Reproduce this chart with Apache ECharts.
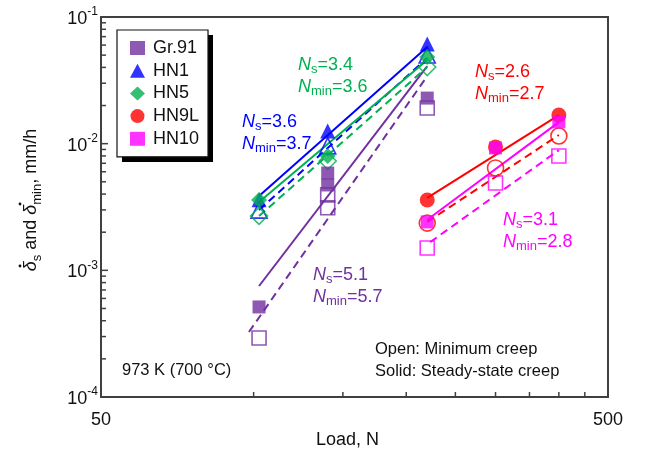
<!DOCTYPE html>
<html>
<head>
<meta charset="utf-8">
<script src="https://cdn.jsdelivr.net/npm/echarts@6/dist/echarts.min.js"></script>
<style>html,body{margin:0;padding:0;background:#fff;}#c{width:647px;height:458px;}</style>
</head>
<body>
<div id="c"></div>
<script>
// ---- data (load in N, creep rate in mm/h) ----
const gr91Load = [102.5, 140, 140, 220];
const gr91Steady = [0.000514, 0.00586, 0.00472, 0.0229];
const gr91Min = [0.000292, 0.00394, 0.00312, 0.0191];
const hn1Load = [102.5, 140, 220];
const hn1Steady = [0.0036, 0.0126, 0.0612];
const hn1Min = [0.00299, 0.0096, 0.0501];
const hn5Load = [102.5, 140, 220];
const hn5Steady = [0.00359, 0.0080, 0.0483];
const hn5Min = [0.00269, 0.0073, 0.0403];
const hn9lLoad = [220, 300, 400];
const hn9lSteady = [0.00359, 0.00942, 0.01683];
const hn9lMin = [0.00236, 0.00643, 0.0115];
const hn10Load = [220, 300, 400];
const hn10Steady = [0.00241, 0.00925, 0.01483];
const hn10Min = [0.0015, 0.00489, 0.0080];

// fitted lines: [load, rate] end points
const gr91FitS = [[102.5, 0.000752], [220, 0.0410]];
const gr91FitM = [[97.9, 0.000326], [220, 0.0342]];
const hn1FitS = [[102.5, 0.00386], [220, 0.0580]];
const hn1FitM = [[102.5, 0.00299], [220, 0.0475]];
const hn5FitS = [[102.5, 0.00346], [220, 0.0458]];
const hn5FitM = [[102.5, 0.00268], [220, 0.0403]];
const hn9lFitS = [[220, 0.00373], [400, 0.0168]];
const hn9lFitM = [[220, 0.00241], [400, 0.0117]];
const hn10FitS = [[220, 0.00251], [400, 0.0148]];
const hn10FitM = [[223, 0.00167], [400, 0.0089]];

const xTickValues = [100, 150, 200, 250, 300, 350, 400, 450];
const yDecades = [1e-4, 1e-3, 1e-2, 1e-1];
const yMantissas = [2, 3, 4, 5, 6, 7, 8, 9];
const xLabels = [50, 500];

const names = ['Gr.91', 'HN1', 'HN5', 'HN9L', 'HN10'];
const colors = ['#7030A0', '#0000FF', '#00B050', '#FF0000', '#FF00FF'];
const symbols = ['rect', 'triangle', 'diamond', 'circle', 'rect'];
const sizes = [13, 15, 16, 15, 13];

const FONT = 'Liberation Sans, Arial, sans-serif';

function zip(a, b) { return a.map((v, i) => [v, b[i]]); }

const chart = echarts.init(document.getElementById('c'));

const series = [];
function fitLine(data, color, dashed) {
  series.push({
    type: 'line', data: data, symbol: 'none', silent: true, z: 2,
    lineStyle: { color: color, width: 2, type: dashed ? [8, 5] : 'solid' }
  });
}
const fits = [[gr91FitS, gr91FitM], [hn1FitS, hn1FitM], [hn5FitS, hn5FitM], [hn9lFitS, hn9lFitM], [hn10FitS, hn10FitM]];
fits.forEach((f, i) => { fitLine(f[0], colors[i], false); fitLine(f[1], colors[i], true); });

const pts = [
  [gr91Load, gr91Steady, gr91Min],
  [hn1Load, hn1Steady, hn1Min],
  [hn5Load, hn5Steady, hn5Min],
  [hn9lLoad, hn9lSteady, hn9lMin],
  [hn10Load, hn10Steady, hn10Min]
];
pts.forEach((p, i) => {
  series.push({
    name: names[i] + ' min', type: 'scatter', data: zip(p[0], p[2]), z: 3,
    symbol: symbols[i], symbolSize: sizes[i] + 1,
    itemStyle: { color: 'rgba(0,0,0,0)', borderColor: colors[i], borderWidth: 1.6 }
  });
  series.push({
    name: names[i], type: 'scatter', data: zip(p[0], p[1]), z: 4,
    symbol: symbols[i], symbolSize: sizes[i],
    itemStyle: { color: colors[i] }
  });
});

// ticks drawn through the axes' scales
const tickData = [];
xTickValues.forEach(v => tickData.push([v, 1e-4, 5, 1]));
yDecades.forEach(d => {
  tickData.push([50, d, 7, 0]);
  if (d < 1e-1) yMantissas.forEach(m => tickData.push([50, d * m, 5, 0]));
});
series.push({
  type: 'custom', data: tickData, clip: false, silent: true, z: 5,
  renderItem: function (params, api) {
    const p = api.coord([api.value(0), api.value(1)]);
    const len = api.value(2);
    const horiz = api.value(3) === 0;
    return {
      type: 'line',
      shape: horiz ? { x1: p[0], y1: p[1], x2: p[0] + len, y2: p[1] } : { x1: p[0], y1: p[1], x2: p[0], y2: p[1] - len },
      style: { stroke: '#404040', lineWidth: 1.5 }
    };
  }
});

function annot(left, y, color, sub, val) {
  return {
    type: 'text', left: left, top: y - 12, z: 10,
    style: {
      text: '{n|N}{s|' + sub + '}{t|=' + val + '}',
      fill: color,
      rich: {
        n: { fontFamily: FONT, fontSize: 18, fontStyle: 'italic', fill: color, lineHeight: 20, verticalAlign: 'top' },
        s: { fontFamily: FONT, fontSize: 13, fill: color, lineHeight: 13, verticalAlign: 'bottom' },
        t: { fontFamily: FONT, fontSize: 18, fill: color, lineHeight: 20, verticalAlign: 'top' }
      }
    }
  };
}

const graphics = [
  // legend drop shadow
  { type: 'rect', shape: { x: 122, y: 35, width: 91, height: 127 }, style: { fill: '#000' }, z: 1 },
  annot(298, 68, colors[2], 's', '3.4'),
  annot(298, 90, colors[2], 'min', '3.6'),
  annot(242, 125, colors[1], 's', '3.6'),
  annot(242, 147, colors[1], 'min', '3.7'),
  annot(313, 278, colors[0], 's', '5.1'),
  annot(313, 300, colors[0], 'min', '5.7'),
  annot(475, 75, colors[3], 's', '2.6'),
  annot(475, 97, colors[3], 'min', '2.7'),
  annot(503, 223, colors[4], 's', '3.1'),
  annot(503, 245, colors[4], 'min', '2.8'),
  { type: 'text', left: 122, top: 362, z: 10, style: { text: '973 K (700 °C)', font: '16.5px ' + FONT, fill: '#111' } },
  { type: 'text', left: 375, top: 341, z: 10, style: { text: 'Open: Minimum creep', font: '16.5px ' + FONT, fill: '#111' } },
  { type: 'text', left: 375, top: 363, z: 10, style: { text: 'Solid: Steady-state creep', font: '16.5px ' + FONT, fill: '#111' } },
  { type: 'text', left: 316, top: 431, z: 10, style: { text: 'Load, N', font: '18px ' + FONT, fill: '#111' } },
  {
    type: 'text', x: 33, y: 200, rotation: Math.PI / 2, z: 10,
    style: {
      text: '{d|\u03B4}{b|s}{t| and }{d|\u03B4}{b|min}{t|, mm/h}',
      align: 'center', verticalAlign: 'middle', fill: '#111',
      rich: {
        d: { fontFamily: FONT, fontSize: 18, fontStyle: 'italic', fill: '#111', lineHeight: 22, verticalAlign: 'top' },
        b: { fontFamily: FONT, fontSize: 13, fill: '#111', lineHeight: 13, verticalAlign: 'bottom' },
        t: { fontFamily: FONT, fontSize: 18, fill: '#111', lineHeight: 22, verticalAlign: 'top' }
      }
    }
  },
  // dots above the deltas (rate notation)
  { type: 'circle', shape: { cx: 20, cy: 266, r: 1.4 }, style: { fill: '#111' }, z: 10 },
  { type: 'circle', shape: { cx: 20, cy: 204, r: 1.4 }, style: { fill: '#111' }, z: 10 }
];

chart.setOption({
  animation: false,
  backgroundColor: '#fff',
  grid: { left: 101, right: 39, top: 17, bottom: 61, show: true, borderColor: '#404040', borderWidth: 2, backgroundColor: 'transparent' },
  xAxis: {
    type: 'log', logBase: 10, min: 50, max: 500,
    axisLine: { show: true, lineStyle: { color: '#404040', width: 2 } },
    axisTick: { show: false }, splitLine: { show: false }, minorTick: { show: false },
    axisLabel: {
      showMinLabel: true, showMaxLabel: true, margin: 14,
      fontFamily: FONT, fontSize: 18, color: '#111',
      formatter: function (v) {
        for (const l of xLabels) if (Math.abs(v - l) < l * 1e-4) return String(l);
        return '';
      }
    }
  },
  yAxis: {
    type: 'log', logBase: 10, min: 1e-4, max: 1e-1,
    axisLine: { show: true, lineStyle: { color: '#404040', width: 2 } },
    axisTick: { show: false }, splitLine: { show: false }, minorTick: { show: false },
    axisLabel: {
      showMinLabel: true, showMaxLabel: true, margin: 3,
      fontFamily: FONT, fontSize: 18, color: '#111',
      formatter: function (v) { return '{m|10}{e|' + Math.round(Math.log10(v)) + '}'; },
      rich: {
        m: { fontFamily: FONT, fontSize: 18, color: '#111', lineHeight: 22, verticalAlign: 'bottom' },
        e: { fontFamily: FONT, fontSize: 12, color: '#111', lineHeight: 12, verticalAlign: 'top' }
      }
    }
  },
  legend: {
    orient: 'vertical', left: 117, top: 30, z: 4,
    data: names.map((n, i) => ({ name: n, icon: symbols[i] })),
    itemWidth: 15, itemHeight: 14, itemGap: 4.7,
    padding: [9, 9, 9, 13],
    backgroundColor: '#fff', borderColor: '#111', borderWidth: 1.2,
    textStyle: { fontFamily: FONT, fontSize: 18, color: '#111', lineHeight: 18, padding: [0, 0, 0, 3] },
    selectedMode: false
  },
  graphic: graphics,
  series: series
});
</script>
</body>
</html>
